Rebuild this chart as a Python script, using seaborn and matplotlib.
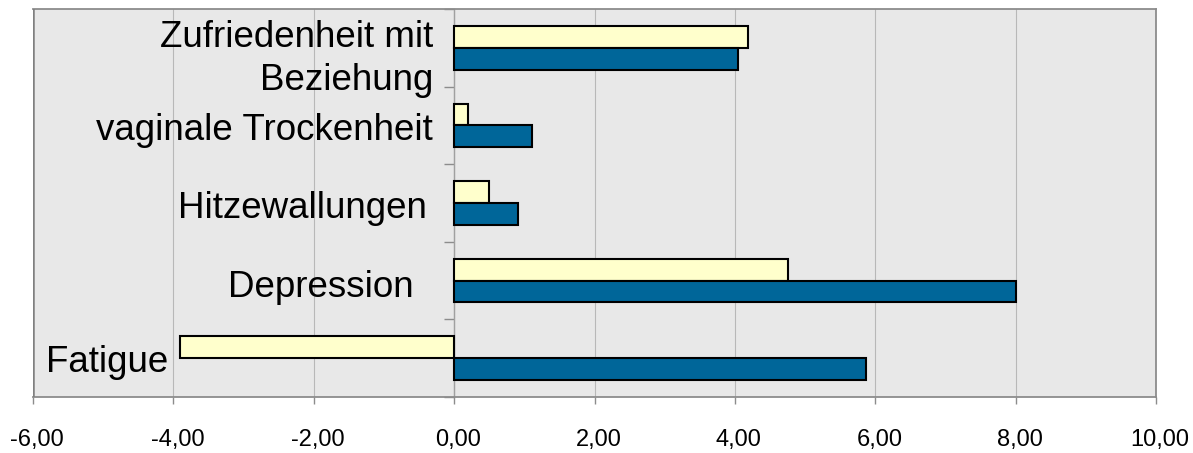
import matplotlib
matplotlib.use("Agg")
import matplotlib.pyplot as plt
from matplotlib.ticker import FuncFormatter, FixedLocator
from matplotlib.transforms import ScaledTranslation
import seaborn as sns
import pandas as pd

# Data
categories = ["Zufriedenheit mit\nBeziehung", "vaginale Trockenheit",
              "Hitzewallungen", "Depression", "Fatigue"]
series_names = ["Serie 1", "Serie 2"]
values_s1 = [4.19, 0.20, 0.49, 4.76, -3.91]
values_s2 = [4.04, 1.11, 0.91, 8.00, 5.87]
x_ticks = [-6, -4, -2, 0, 2, 4, 6, 8, 10]

# Anchor of each category label: right edge (value units) and vertical nudge (category units)
label_right = [-0.30, -0.30, -0.385, -0.575, -4.08]
label_nudge = [0.15, 0.065, 0.07, 0.09, 0.05]

df = pd.DataFrame({
    "cat": categories * 2,
    "series": [series_names[0]] * len(categories) + [series_names[1]] * len(categories),
    "value": values_s1 + values_s2,
})

sns.set_theme(style="white")
plt.rcParams["font.family"] = ["Liberation Sans", "DejaVu Sans"]

fig = plt.figure(figsize=(11.93, 4.53), dpi=100)
ax = fig.add_axes([33 / 1193, 1 - 397 / 453, (1156 - 33) / 1193, (397 - 9) / 453])
ax.set_facecolor("#e8e8e8")

sns.barplot(data=df, y="cat", x="value", hue="series", order=categories,
            hue_order=series_names, orient="h", saturation=1,
            palette=["#ffffcc", "#006699"], width=0.56,
            edgecolor="black", linewidth=1.5, legend=False, ax=ax, zorder=3)

ax.set_xlim(x_ticks[0], x_ticks[-1])
ax.set_ylim(len(categories) - 0.5, -0.5)
ax.xaxis.set_major_locator(FixedLocator(x_ticks))
ax.xaxis.set_major_formatter(FuncFormatter(lambda v, p: f"{v:.2f}".replace(".", ",")))
ax.grid(axis="x", color="#b8b8b8", linewidth=0.8, zorder=0)
ax.set_axisbelow(True)

# Frame around the plotting area
for side in ["top", "right", "bottom"]:
    ax.spines[side].set_visible(True)
    ax.spines[side].set_color("#8c8c8c")
    ax.spines[side].set_linewidth(1.3)
ax.axvline(x_ticks[0], color="#808080", linewidth=1.8, zorder=4)

# Category axis sits at zero with ticks between categories
ax.spines["left"].set_position(("data", 0))
ax.spines["left"].set_color("#a0a0a0")
ax.spines["left"].set_linewidth(1.0)
ax.yaxis.set_major_locator(FixedLocator([i - 0.5 for i in range(len(categories) + 1)]))
ax.set_yticklabels([])
ax.tick_params(axis="y", which="major", left=True, direction="out", length=7,
               width=1, color="#8c8c8c")
ax.tick_params(axis="x", which="major", bottom=True, direction="out", length=5,
               width=1, color="#8c8c8c", labelsize=17, pad=18, labelcolor="black")
ax.set_xlabel("")
ax.set_ylabel("")

for i, (lab, xr, dy) in enumerate(zip(categories, label_right, label_nudge)):
    ax.text(xr, i + dy, lab, ha="right", va="center", multialignment="right",
            fontsize=26.5, color="black", linespacing=1.3, zorder=5)

# Value labels sit slightly to the right of their ticks
fig.canvas.draw()
shift = ScaledTranslation(4 / 100, 0, fig.dpi_scale_trans)
for lbl in ax.get_xticklabels():
    lbl.set_transform(lbl.get_transform() + shift)

fig.savefig("out.png", dpi=100)
